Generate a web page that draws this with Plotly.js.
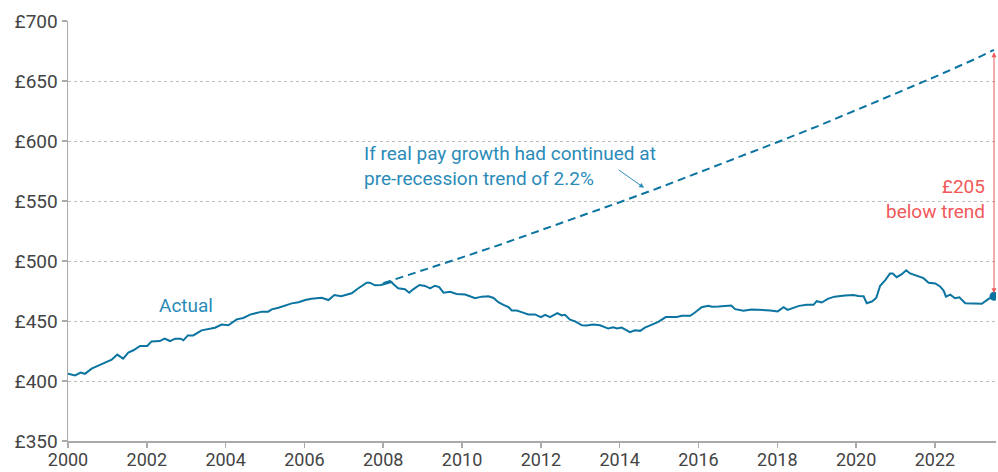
<!DOCTYPE html>
<html>
<head>
<meta charset="utf-8">
<script src="https://cdn.plot.ly/plotly-3.0.1.min.js"></script>
<style>
  html, body { margin: 0; padding: 0; background: #ffffff; }
  #chart { width: 998px; height: 472px; }
</style>
</head>
<body>
<div id="chart"></div>
<script>
// Actual weekly real pay (decimal year, £)
const actualYears = [
  2000.0, 2000.18, 2000.32, 2000.43, 2000.6, 2000.81, 2000.94, 2001.11, 2001.25, 2001.4,
  2001.53, 2001.66, 2001.83, 2002.01, 2002.12, 2002.33, 2002.45, 2002.59, 2002.72, 2002.86,
  2002.93, 2003.04, 2003.18, 2003.39, 2003.56, 2003.73, 2003.9, 2004.07, 2004.28, 2004.45,
  2004.62, 2004.79, 2004.92, 2005.08, 2005.17, 2005.34, 2005.51, 2005.68, 2005.85, 2006.02,
  2006.18, 2006.35, 2006.44, 2006.61, 2006.76, 2006.93, 2007.07, 2007.2, 2007.35, 2007.45,
  2007.58, 2007.66, 2007.79, 2007.94, 2008.09, 2008.21, 2008.26, 2008.38, 2008.55, 2008.66,
  2008.76, 2008.92, 2009.06, 2009.19, 2009.31, 2009.42, 2009.53, 2009.7, 2009.86, 2010.08,
  2010.2, 2010.33, 2010.5, 2010.67, 2010.8, 2010.92, 2011.05, 2011.18, 2011.26, 2011.39,
  2011.51, 2011.68, 2011.85, 2012.0, 2012.11, 2012.23, 2012.42, 2012.53, 2012.61, 2012.74,
  2012.87, 2013.04, 2013.16, 2013.33, 2013.5, 2013.63, 2013.71, 2013.84, 2013.93, 2014.05,
  2014.18, 2014.26, 2014.39, 2014.52, 2014.64, 2014.81, 2014.98, 2015.17, 2015.32, 2015.45,
  2015.58, 2015.79, 2015.91, 2016.08, 2016.25, 2016.34, 2016.51, 2016.68, 2016.83, 2016.93,
  2017.14, 2017.35, 2017.56, 2017.82, 2018.01, 2018.16, 2018.26, 2018.41, 2018.55, 2018.75,
  2018.92, 2019.0, 2019.13, 2019.28, 2019.45, 2019.72, 2019.93, 2020.06, 2020.19, 2020.27,
  2020.4, 2020.51, 2020.61, 2020.74, 2020.86, 2020.93, 2021.03, 2021.16, 2021.27, 2021.37,
  2021.54, 2021.71, 2021.84, 2022.01, 2022.13, 2022.22, 2022.28, 2022.39, 2022.51, 2022.62,
  2022.77, 2022.93, 2023.19, 2023.36, 2023.5
];
const actualValues = [
  406, 404.7, 407, 406, 410.3, 413, 415.3, 417.8, 422, 418.6,
  423.6, 425.6, 429.2, 429.2, 433, 433.3, 435.3, 433.3, 435.3, 435.3,
  433.9, 438, 438, 442.2, 443.6, 444.4, 447, 446.4, 451.4, 452.5,
  455.3, 456.8, 457.8, 457.8, 459.7, 461.1, 463, 464.7, 465.6, 467.5,
  468.6, 468.9, 469.4, 467.5, 471.7, 470.6, 472.2, 473.1, 476.9, 479.2,
  481.9, 481.9, 479.7, 480, 481.1, 482.5, 480.6, 477.2, 476.4, 473.6,
  476.4, 480, 479.2, 477.2, 479.4, 478.3, 473.6, 474.3, 472.5, 472,
  470.6, 469, 470.3, 470.6, 469.2, 465.7, 463.5, 461.5, 458.8, 458.8,
  457.4, 455.5, 455.5, 453.3, 455.2, 453.3, 456.6, 454.7, 455.2, 451.1,
  449.7, 446.4, 446.2, 447, 446.4, 444.5, 443.7, 444.8, 443.7, 444.5,
  441.8, 440.7, 442.3, 441.8, 444.5, 447, 449.2, 453.3, 453.6, 453.3,
  454.4, 454.4, 457.1, 461.5, 462.6, 461.8, 462.1, 462.4, 462.9, 459.9,
  458.5, 459.6, 459.3, 458.8, 458, 461.5, 459.3, 461, 462.6, 463.5,
  463.5, 466.5, 465.4, 468.4, 470.3, 471.2, 471.7, 470.9, 470.6, 464.8,
  466.2, 469.2, 479.4, 484.1, 489.6, 489.6, 486.5, 489, 492.3, 489.6,
  487.9, 485.7, 481.9, 481.3, 478.8, 475.3, 470.3, 472, 469, 469.8,
  464.8, 464.8, 464.3, 468.4, 470.6
];

// Pre-recession trend (2.2% a year)
const trendYears = [2008, 2009, 2010, 2011, 2012, 2013, 2014, 2015, 2016, 2017, 2018, 2019, 2020, 2021, 2022, 2023, 2023.5];
const trendValues = [481.5, 492, 503, 514, 525.5, 537, 549, 561, 573.5, 586, 599, 612, 625.5, 639.5, 653.5, 668, 676];

// Axis ticks
const xTickVals = [2000, 2002, 2004, 2006, 2008, 2010, 2012, 2014, 2016, 2018, 2020, 2022];
const xTickText = ['2000', '2002', '2004', '2006', '2008', '2010', '2012', '2014', '2016', '2018', '2020', '2022'];
const yTickVals = [350, 400, 450, 500, 550, 600, 650, 700];
const yTickText = ['£350', '£400', '£450', '£500', '£550', '£600', '£650', '£700'];

// Text labels
const actualLabel = 'Actual';
const trendLabel = 'If real pay growth had continued at<br>pre-recession trend of 2.2%';
const gapLabel = '£205<br>below trend';

const lineColor = '#0b74a1';
const labelBlue = '#2b8bb8';
const red = '#f0585a';
const font = 'Roboto, "Liberation Sans", sans-serif';

const lastX = actualYears[actualYears.length - 1];
const lastY = actualValues[actualValues.length - 1];
const trendEnd = trendValues[trendValues.length - 1];

const traces = [
  {
    x: trendYears, y: trendValues, type: 'scatter', mode: 'lines',
    line: { color: lineColor, width: 2, dash: '8px,5px' },
    hoverinfo: 'skip'
  },
  {
    x: actualYears, y: actualValues, type: 'scatter', mode: 'lines',
    line: { color: lineColor, width: 2 },
    hoverinfo: 'skip'
  },
  {
    x: [lastX], y: [lastY], type: 'scatter', mode: 'markers',
    marker: { color: lineColor, size: 9 },
    hoverinfo: 'skip'
  }
];

const layout = {
  width: 998, height: 472,
  margin: { l: 68, r: 2, t: 21, b: 31 },
  paper_bgcolor: '#ffffff', plot_bgcolor: '#ffffff',
  showlegend: false,
  font: { family: font, size: 18, color: '#444444' },
  xaxis: {
    range: [2000, 2023.55],
    tickvals: xTickVals, ticktext: xTickText,
    showgrid: false, zeroline: false,
    showline: true, linecolor: '#aaaaaa', linewidth: 1.5,
    ticks: 'outside', ticklen: 5, tickcolor: '#aaaaaa', tickwidth: 1.5,
    ticklabelstandoff: -3,
    tickfont: { family: font, size: 18, color: '#444444' },
    fixedrange: true
  },
  yaxis: {
    range: [350, 700],
    tickvals: yTickVals, ticktext: yTickText,
    showgrid: true, gridcolor: '#bdbdbd', griddash: '3px,3px', gridwidth: 1,
    zeroline: false,
    showline: true, linecolor: '#aaaaaa', linewidth: 1.5,
    ticks: 'outside', ticklen: 5, tickcolor: '#aaaaaa', tickwidth: 1.5,
    tickfont: { family: font, size: 19, color: '#444444' },
    fixedrange: true
  },
  annotations: [
    {
      x: 2002.99, y: 462.7, xref: 'x', yref: 'y',
      text: actualLabel, showarrow: false,
      font: { family: font, size: 19, color: labelBlue },
      xanchor: 'center', yanchor: 'middle'
    },
    {
      x: 2007.46, y: 579.4, xref: 'x', yref: 'y',
      text: trendLabel, showarrow: false, align: 'left',
      font: { family: font, size: 19, color: labelBlue },
      xanchor: 'left', yanchor: 'middle'
    },
    {
      x: 2014.62, y: 561, xref: 'x', yref: 'y',
      text: '', showarrow: true, ax: -27, ay: -19,
      arrowhead: 2, arrowsize: 1, arrowwidth: 1, arrowcolor: labelBlue
    },
    {
      x: 2023.32, y: 551.9, xref: 'x', yref: 'y',
      text: gapLabel, showarrow: false, align: 'right',
      font: { family: font, size: 19, color: red },
      xanchor: 'right', yanchor: 'middle'
    },
    {
      x: lastX, y: lastY, xref: 'x', yref: 'y',
      ax: lastX, ay: trendEnd, axref: 'x', ayref: 'y',
      text: '', showarrow: true, arrowside: 'end+start',
      arrowhead: 2, arrowsize: 1, arrowwidth: 1, arrowcolor: red,
      standoff: 3, startstandoff: 1
    }
  ]
};

Plotly.newPlot('chart', traces, layout, { displayModeBar: false, staticPlot: true });
</script>
</body>
</html>
